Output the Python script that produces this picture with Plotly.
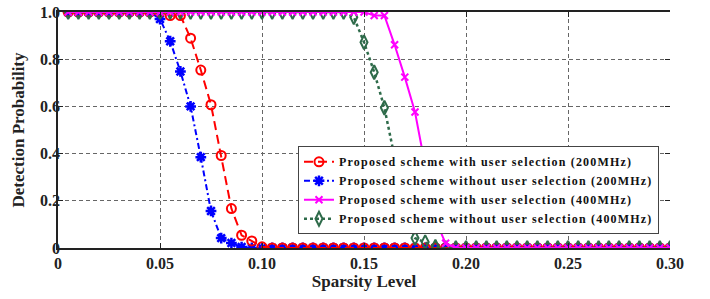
import plotly.graph_objects as go

sparsity = [0.005, 0.010, 0.015, 0.020, 0.025, 0.030, 0.035, 0.040, 0.045, 0.050,
            0.055, 0.060, 0.065, 0.070, 0.075, 0.080, 0.085, 0.090, 0.095, 0.100,
            0.105, 0.110, 0.115, 0.120, 0.125, 0.130, 0.135, 0.140, 0.145, 0.150,
            0.155, 0.160, 0.165, 0.170, 0.175, 0.180, 0.185, 0.190, 0.195, 0.200,
            0.205, 0.210, 0.215, 0.220, 0.225, 0.230, 0.235, 0.240, 0.245, 0.250,
            0.255, 0.260, 0.265, 0.270, 0.275, 0.280, 0.285, 0.290, 0.295, 0.300]

with_sel_200 = [1, 1, 1, 1, 1, 1, 1, 1, 1, 1.0,
                0.985, 0.985, 0.889, 0.754, 0.607, 0.392, 0.167, 0.054, 0.030, 0.005,
                0, 0, 0, 0, 0, 0, 0, 0, 0, 0,
                0, 0, 0, 0, 0, 0, 0, 0, 0, 0,
                0, 0, 0, 0, 0, 0, 0, 0, 0, 0,
                0, 0, 0, 0, 0, 0, 0, 0, 0, 0]

without_sel_200 = [1, 1, 1, 1, 1, 1, 1, 1, 1, 0.970,
                   0.876, 0.748, 0.600, 0.385, 0.157, 0.042, 0.021, 0.004, 0, 0,
                   0, 0, 0, 0, 0, 0, 0, 0, 0, 0,
                   0, 0, 0, 0, 0, 0, 0, 0, 0, 0,
                   0, 0, 0, 0, 0, 0, 0, 0, 0, 0,
                   0, 0, 0, 0, 0, 0, 0, 0, 0, 0]

with_sel_400 = [1, 1, 1, 1, 1, 1, 1, 1, 1, 1,
                1, 1, 1, 1, 1, 1, 1, 1, 1, 1,
                1, 1, 1, 1, 1, 1, 1, 1, 1, 1,
                0.985, 0.985, 0.861, 0.724, 0.576, 0.340, 0.120, 0.020, 0, 0,
                0, 0, 0, 0, 0, 0, 0, 0, 0, 0,
                0, 0, 0, 0, 0, 0, 0, 0, 0, 0]

without_sel_400 = [1, 1, 1, 1, 1, 1, 1, 1, 1, 1,
                   1, 1, 1, 1, 1, 1, 1, 1, 1, 1,
                   1, 1, 1, 1, 1, 1, 1, 1, 0.978, 0.872,
                   0.745, 0.594, 0.385, 0.160, 0.042, 0.025, 0.005, 0, 0, 0,
                   0, 0, 0, 0, 0, 0, 0, 0, 0, 0,
                   0, 0, 0, 0, 0, 0, 0, 0, 0, 0]

x_tickvals = [0, 0.05, 0.10, 0.15, 0.20, 0.25, 0.30]
x_ticktext = ["0", "0.05", "0.10", "0.15", "0.20", "0.25", "0.30"]
y_tickvals = [0, 0.2, 0.4, 0.6, 0.8, 1.0]
y_ticktext = ["0", "0.2", "0.4", "0.6", "0.8", "1.0"]

names = ["Proposed scheme with user selection (200MHz)",
         "Proposed scheme without user selection (200MHz)",
         "Proposed scheme with user selection (400MHz)",
         "Proposed scheme without user selection (400MHz)"]


def spaced(t):
    return '<span style="letter-spacing:1.2px">' + t + '</span>'


FONT = "Liberation Serif, Times New Roman, serif"
fig = go.Figure()

fig.add_trace(go.Scatter(
    x=sparsity, y=without_sel_200, name=spaced(names[1]), legendrank=2, mode="lines+markers",
    line=dict(color="#0000FF", width=2, dash="6px,3px,2px,3px"),
    marker=dict(symbol="asterisk-open", size=9, color="#0000FF", line=dict(color="#0000FF", width=2.5))))
fig.add_trace(go.Scatter(
    x=sparsity, y=with_sel_200, name=spaced(names[0]), legendrank=1, mode="lines+markers",
    line=dict(color="#FF0000", width=2, dash="9px,5px"),
    marker=dict(symbol="circle-open", size=9, color="#FF0000", line=dict(color="#FF0000", width=2))))
fig.add_trace(go.Scatter(
    x=sparsity, y=without_sel_400, name=spaced(names[3]), legendrank=4, mode="lines+markers",
    line=dict(color="#2E6B4A", width=2.5, dash="dot"),
    marker=dict(symbol="diamond-tall-open", size=10, color="#2E6B4A", line=dict(color="#2E6B4A", width=2))))
fig.add_trace(go.Scatter(
    x=sparsity, y=with_sel_400, name=spaced(names[2]), legendrank=3, mode="lines+markers",
    line=dict(color="#FF00FF", width=2),
    marker=dict(symbol="x-thin-open", size=7, color="#FF00FF", line=dict(color="#FF00FF", width=2))))

# invisible helper on the right axis, used only to draw the right-side ticks
fig.add_trace(go.Scatter(x=[0.3], y=[0], yaxis="y2", showlegend=False, mode="markers",
                         marker=dict(opacity=0), hoverinfo="skip"))

fig.update_layout(
    width=710, height=299,
    margin=dict(l=58, r=40, t=12, b=51),
    plot_bgcolor="white", paper_bgcolor="white",
    font=dict(family=FONT, color="#222222", weight="bold"),
    xaxis=dict(range=[0, 0.30], tickvals=x_tickvals, ticktext=x_ticktext, automargin=False,
               showline=True, linecolor="#222222", linewidth=1.5, mirror="ticks",
               ticks="inside", ticklen=5, tickcolor="#222222", ticklabeloverflow="allow",
               showgrid=True, gridcolor="#666666", griddash="4px,3px", gridwidth=1,
               zeroline=False,
               tickfont=dict(family=FONT, size=16, weight="bold"),
               title=dict(text="Sparsity Level", font=dict(family=FONT, size=17, weight="bold"), standoff=4)),
    yaxis=dict(range=[0, 1.0], tickvals=y_tickvals, ticktext=y_ticktext, automargin=False,
               showline=True, linecolor="#222222", linewidth=1.5, mirror=False,
               ticks="inside", ticklen=5, tickcolor="#222222", ticklabelstandoff=-7,
               ticklabeloverflow="allow",
               showgrid=True, gridcolor="#666666", griddash="4px,3px", gridwidth=1,
               zeroline=False,
               tickfont=dict(family=FONT, size=16, weight="bold"),
               title=dict(text="Detection Probability", font=dict(family=FONT, size=17, weight="bold"), standoff=11)),
    yaxis2=dict(range=[0, 1.0], overlaying="y", side="right", tickvals=y_tickvals, automargin=False,
                showticklabels=False, showline=False, showgrid=False, zeroline=False,
                ticks="inside", ticklen=5, tickcolor="#222222"),
    legend=dict(x=0.982, y=0.058, xanchor="right", yanchor="bottom",
                bgcolor="white", bordercolor="#444444", borderwidth=1,
                font=dict(family=FONT, size=12, color="#111111", weight="bold"),
                itemwidth=30, tracegroupgap=0),
    showlegend=True,
)

fig.write_html("out.html", config={"displayModeBar": False},
               post_script="document.body.style.margin='0px';")
